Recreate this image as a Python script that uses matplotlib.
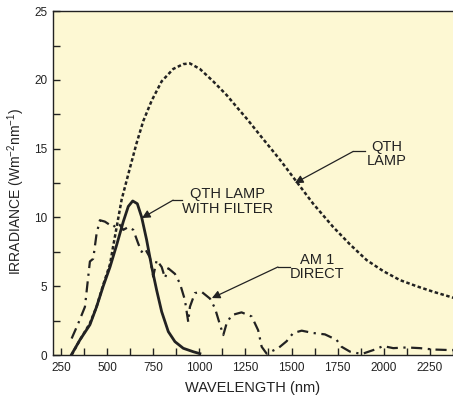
import numpy as np
import matplotlib.pyplot as plt

plt.rcParams['font.family'] = ['Liberation Sans', 'DejaVu Sans']
plt.rcParams['mathtext.fontset'] = 'custom'
plt.rcParams['mathtext.rm'] = 'Liberation Sans'
plt.rcParams['mathtext.default'] = 'rm'

# QTH lamp (dotted)
qth_x = [308, 353, 407, 443, 479, 516, 533, 552, 579, 624, 660, 696, 742, 796, 859,
         913, 949, 1003, 1075, 1148, 1211, 1256, 1346, 1437, 1527, 1617, 1726,
         1816, 1907, 1997, 2087, 2178, 2268, 2380]
qth_y = [0.0, 1.1, 2.3, 3.5, 5.1, 6.6, 7.9, 9.3, 11.3, 13.6, 15.4, 17.0, 18.5, 19.9, 20.8,
         21.15, 21.2, 20.8, 19.9, 18.9, 17.9, 17.2, 15.7, 14.2, 12.6, 11.0, 9.3,
         8.05, 6.9, 6.1, 5.45, 5.0, 4.6, 4.15]

# QTH lamp with filter (solid)
filt_x = [308, 353, 407, 443, 479, 516, 552, 588, 615, 639, 664, 687, 714, 742,
          769, 796, 832, 868, 913, 967, 1003]
filt_y = [0.05, 1.1, 2.2, 3.5, 5.0, 6.4, 8.0, 9.7, 10.8, 11.2, 11.0, 10.05, 8.4, 6.4,
          4.7, 3.15, 1.7, 0.97, 0.49, 0.24, 0.1]

# AM 1 direct (dash-dot)
am_x = [308, 344, 380, 398, 407, 425, 443, 461, 488, 516, 533, 561, 588, 615, 642,
        669, 687, 705, 732, 750, 769, 796, 814, 832, 868, 895, 922, 940, 949, 976,
        1012, 1058, 1085, 1112, 1130, 1148, 1175, 1229, 1284, 1319, 1338, 1365,
        1428, 1473, 1509, 1555, 1617, 1681, 1744, 1771, 1816, 1880, 1943, 1997,
        2051, 2124, 2196, 2268, 2380]
am_y = [1.2, 2.3, 3.5, 5.7, 6.8, 7.0, 8.8, 9.8, 9.7, 9.45, 9.3, 9.6, 9.1, 9.3, 9.1,
        8.1, 7.5, 7.75, 7.1, 5.7, 6.9, 6.4, 5.6, 6.3, 5.9, 5.2, 4.0, 2.4, 3.5, 4.5,
        4.6, 4.1, 3.4, 2.2, 1.45, 2.3, 2.9, 3.1, 2.8, 1.8, 0.6, 0.1,
        0.5, 1.0, 1.6, 1.77, 1.6, 1.5, 1.1, 0.6, 0.25, 0.07, 0.36, 0.65,
        0.5, 0.55, 0.5, 0.4, 0.35]

x_ticks = [250, 500, 750, 1000, 1250, 1500, 1750, 2000, 2250]
y_ticks = [0, 5, 10, 15, 20, 25]

fig = plt.figure(figsize=(4.53, 3.98), dpi=100)
ax = fig.add_axes([0.117, 0.108, 0.883, 0.864])
ax.set_facecolor('#FDF8D3')

ink = '#222222'
ax.plot(qth_x, qth_y, color=ink, lw=1.8, linestyle=(0, (1.4, 1.0)))
ax.plot(filt_x, filt_y, color=ink, lw=2.0, solid_joinstyle='round')
ax.plot(am_x, am_y, color=ink, lw=1.6, linestyle=(0, (5, 2.5, 1, 2.5)))

ax.set_xlim(207, 2375)
ax.set_ylim(0, 25)
ax.set_xticks(x_ticks)
ax.set_xticks(np.arange(250, 2376, 125), minor=True)
ax.set_yticks(y_ticks)
ax.set_yticks(np.arange(0, 25.1, 2.5), minor=True)
ax.tick_params(direction='in', length=5, width=1, labelsize=8.5, colors=ink)
ax.tick_params(which='minor', direction='in', length=5, width=1, colors=ink)
ax.tick_params(axis='x', pad=5)
ax.tick_params(axis='y', pad=4)
ax.spines['right'].set_visible(False)
for s in ['left', 'bottom', 'top']:
    ax.spines[s].set_linewidth(1.0)
    ax.spines[s].set_color(ink)

ax.set_xlabel('WAVELENGTH (nm)', fontsize=10.5, color=ink, labelpad=5)
ax.set_ylabel('IRRADIANCE (Wm$^{-2}$nm$^{-1}$)', fontsize=10, color=ink)
ax.yaxis.set_label_coords(-0.066, 0.475)

arrow = dict(arrowstyle='-|>', color=ink, lw=0.9, mutation_scale=12,
             shrinkA=0, shrinkB=0)

def label(text, txy, knee, start, tip):
    ax.text(txy[0], txy[1], text, ha='center', va='center', fontsize=10.5,
            color=ink, linespacing=1.05)
    ax.plot([start[0], knee[0]], [start[1], knee[1]], color=ink, lw=0.9)
    ax.annotate('', xy=tip, xytext=knee, arrowprops=arrow)

label('QTH\nLAMP', (2015, 14.6), (1834, 14.8), (1898, 14.8), (1518, 12.5))
label('QTH LAMP\nWITH FILTER', (1155, 11.15), (858, 11.26), (904, 11.26), (689, 9.96))
label('AM 1\nDIRECT', (1637, 6.4), (1426, 6.4), (1491, 6.4), (1068, 4.14))

fig.savefig('out.png', dpi=100)
